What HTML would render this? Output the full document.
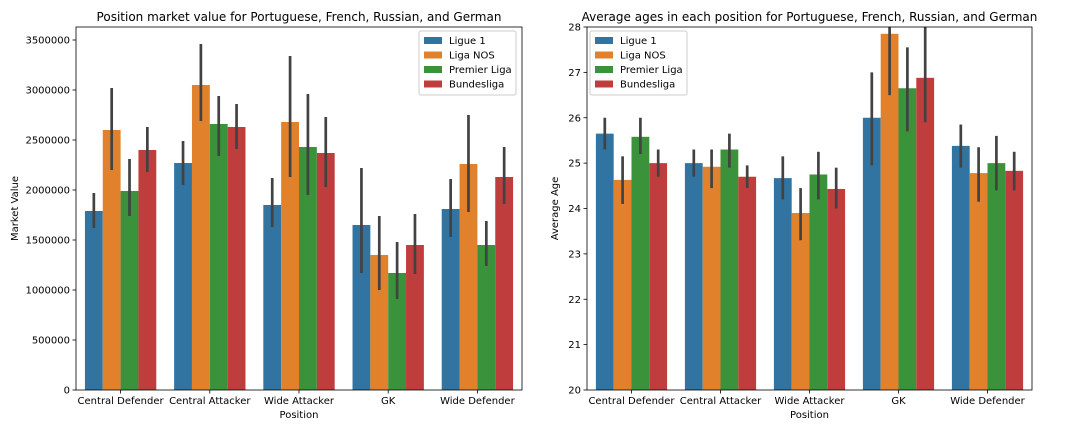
<!DOCTYPE html>
<html><head><meta charset="utf-8"><style>
body{margin:0;background:#fff;width:1080px;height:432px;overflow:hidden;font-family:"Liberation Sans","DejaVu Sans",sans-serif}
svg text{font-family:"DejaVu Sans","Liberation Sans",sans-serif}
</style></head><body>
<svg id="c" width="1080" height="432"></svg>
<script>
const categories=["Central Defender","Central Attacker","Wide Attacker","GK","Wide Defender"];
const series=["Ligue 1","Liga NOS","Premier Liga","Bundesliga"];
const colors=["#3274a1","#e1812c","#3a923a","#c03d3e"];
const mvValues=[[1790000,2270000,1850000,1650000,1810000],[2600000,3050000,2680000,1350000,2260000],[1990000,2660000,2430000,1170000,1450000],[2400000,2630000,2370000,1450000,2130000]];
const mvLow=[[1620000,2050000,1630000,1170000,1530000],[2200000,2690000,2130000,1000000,1780000],[1740000,2340000,1950000,910000,1240000],[2180000,2410000,2030000,1160000,1860000]];
const mvHigh=[[1970000,2490000,2120000,2220000,2110000],[3020000,3460000,3340000,1740000,2750000],[2310000,2940000,2960000,1480000,1690000],[2630000,2860000,2730000,1760000,2430000]];
const mvTicks=[0,500000,1000000,1500000,2000000,2500000,3000000,3500000];
const ageValues=[[25.65,25.0,24.67,26.0,25.38],[24.63,24.92,23.9,27.85,24.78],[25.58,25.3,24.75,26.65,25.0],[25.0,24.7,24.43,26.88,24.83]];
const ageLow=[[25.3,24.7,24.2,24.95,24.9],[24.1,24.45,23.3,26.5,24.15],[25.2,24.9,24.2,25.7,24.4],[24.7,24.45,24.0,25.9,24.4]];
const ageHigh=[[26.0,25.3,25.15,27.0,25.85],[25.15,25.3,24.45,28.1,25.35],[26.0,25.65,25.25,27.55,25.6],[25.3,24.95,24.9,28.1,25.25]];
const ageTicks=[20,21,22,23,24,25,26,27,28];
const NS="http://www.w3.org/2000/svg";
const svg=document.getElementById('c');
function mk(t,a,p){const e=document.createElementNS(NS,t);for(const k in a)e.setAttribute(k,a[k]);(p||svg).appendChild(e);return e;}
function panel(o){
 const g=mk('g',{});
 
 
 const L=o.x0,R=o.x1,T=27,B=390;
 const y=v=>B-(v-o.ymin)/(o.ymax-o.ymin)*(B-T);
 const bw=(R-L)/categories.length;
 const x=i=>L+bw*(i+0.5);
 const cid='clip'+o.name;
 const cp=mk('clipPath',{id:cid},g);mk('rect',{x:L,y:T,width:R-L,height:B-T},cp);
 const marks=mk('g',{'clip-path':'url(#'+cid+')'},g);
 const w=bw*0.8/series.length;
 series.forEach((s,si)=>{categories.forEach((c,ci)=>{
  const cx=x(ci)-bw*0.4+w*(si+0.5);
  const r=mk('rect',{x:cx-w/2,y:y(o.vals[si][ci]),width:w,height:B-y(o.vals[si][ci]),fill:colors[si]},marks);
  
  
  const l=mk('line',{x1:cx,x2:cx,y1:y(o.lo[si][ci]),y2:y(o.hi[si][ci]),stroke:'#424242','stroke-width':2.7},marks);
  
  
 });});
 mk('rect',{x:L,y:T,width:R-L,height:B-T,fill:'none',stroke:'#000','stroke-width':0.8},g);
 o.ticks.forEach(t=>{mk('line',{x1:L-3.5,x2:L,y1:y(t),y2:y(t),stroke:'#000','stroke-width':0.8},g);
  const tx=mk('text',{x:L-6,y:y(t)+3.5,'font-size':10,'text-anchor':'end'},g);tx.textContent=t;
  
  });
 categories.forEach((c,i)=>{mk('line',{x1:x(i),x2:x(i),y1:B,y2:B+3.5,stroke:'#000','stroke-width':0.8},g);
  const tx=mk('text',{x:x(i),y:B+14,'font-size':10,'text-anchor':'middle'},g);tx.textContent=c;
  
  });
 const xt=mk('text',{x:(L+R)/2,y:B+28,'font-size':10,'text-anchor':'middle'},g);xt.textContent='Position';
 
 
 const yt=mk('text',{x:0,y:0,'font-size':10,'text-anchor':'middle',transform:`translate(${o.ylx},${(T+B)/2}) rotate(-90)`},g);yt.textContent=o.ylabel;
 
 
 const ti=mk('text',{x:(L+R)/2,y:21,'font-size':12,'text-anchor':'middle'},g);ti.textContent=o.title;
 
 
 const lg=mk('g',{},g);
 
 
 mk('rect',{x:o.lx,y:31,width:97,height:64,fill:'#fff',stroke:'#ccc',rx:2},lg);
 series.forEach((s,i)=>{mk('rect',{x:o.lx+5,y:37+i*14.5,width:18,height:7,fill:colors[i]},lg);
  const t=mk('text',{x:o.lx+30,y:44+i*14.5,'font-size':10},lg);t.textContent=s;
  
  });
}
panel({name:'market-value-panel',x0:76,x1:522,ymin:0,ymax:3630000,vals:mvValues,lo:mvLow,hi:mvHigh,ticks:mvTicks,ylabel:'Market Value',ylx:18,title:'Position market value for Portuguese, French, Russian, and German',lx:419});
panel({name:'average-age-panel',x0:587,x1:1032,ymin:20,ymax:28,vals:ageValues,lo:ageLow,hi:ageHigh,ticks:ageTicks,ylabel:'Average Age',ylx:558,title:'Average ages in each position for Portuguese, French, Russian, and German',lx:590});
</script>
</body></html>
